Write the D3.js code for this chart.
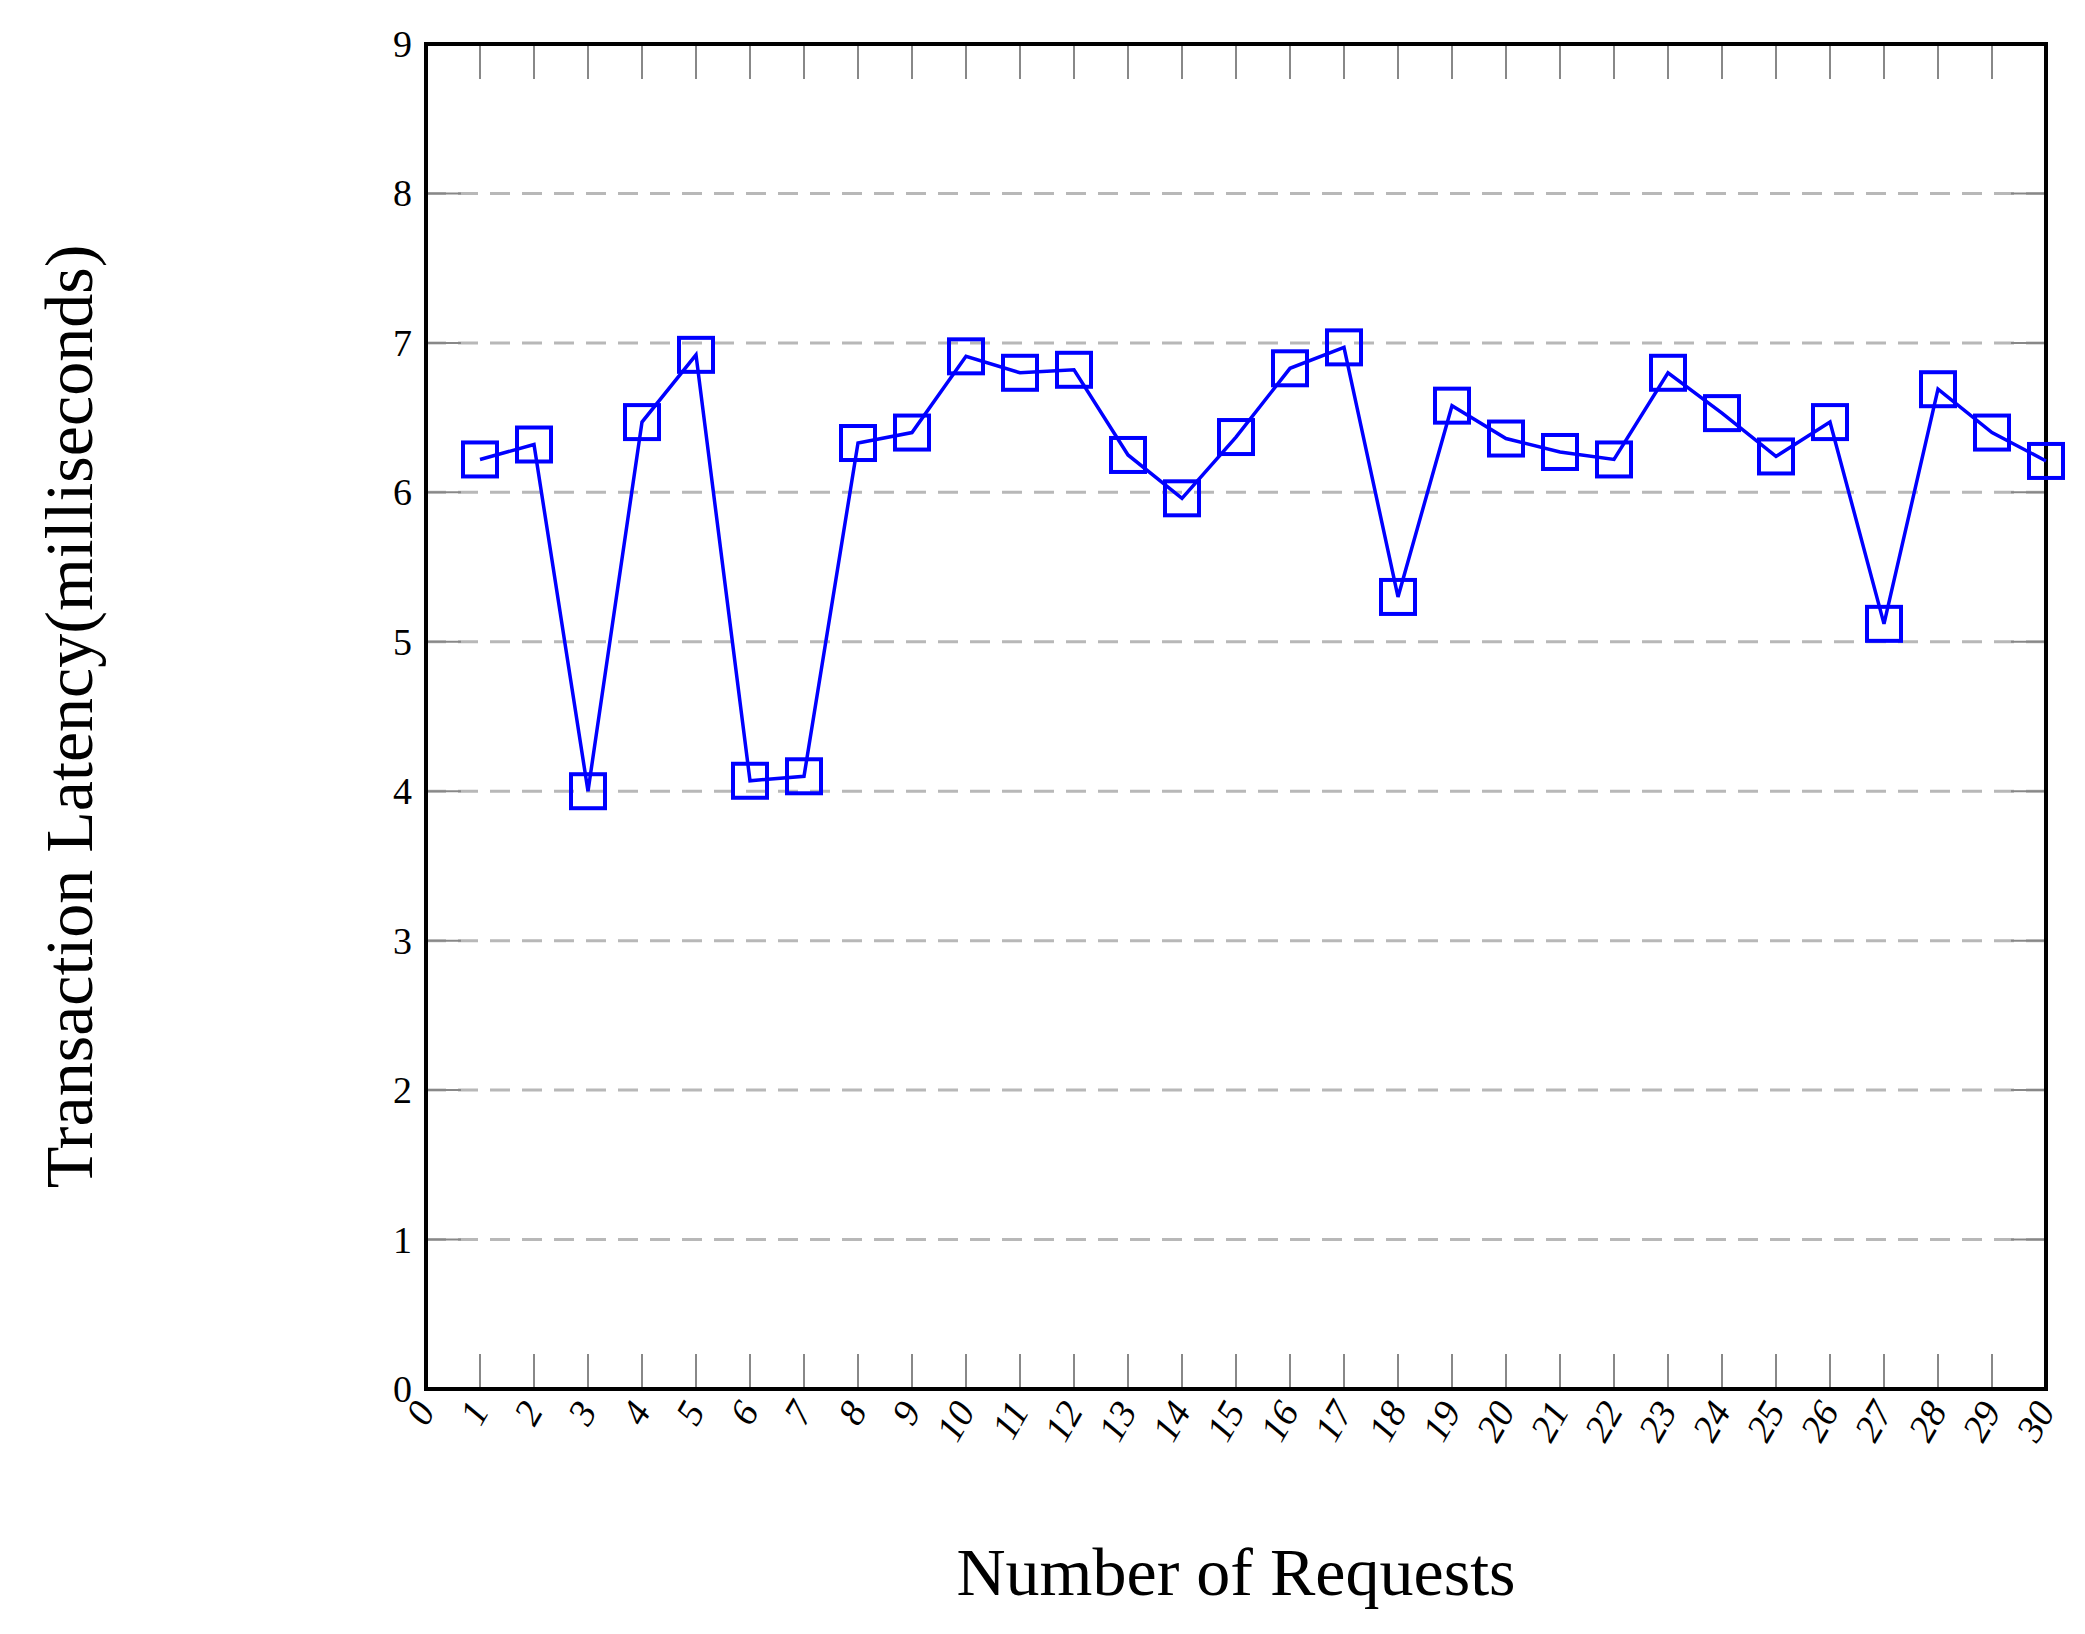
<!DOCTYPE html>
<html><head><meta charset="utf-8">
<script src="https://cdn.jsdelivr.net/npm/d3@7"></script>
<style>body{margin:0;background:#fff}text{font-family:"Liberation Serif","DejaVu Serif",serif}</style>
</head><body><div id="chart"></div>
<script>
var requests = d3.range(1, 31);
var latency = [6.22,6.32,4.0,6.47,6.92,4.07,4.1,6.33,6.4,6.91,6.8,6.82,6.25,5.96,6.37,6.83,6.97,5.3,6.58,6.36,6.27,6.22,6.8,6.53,6.24,6.47,5.12,6.69,6.4,6.21];
var xTicks = d3.range(0, 31);
var yTicks = d3.range(0, 10);

var W = 2085, H = 1634;
var margin = {top: 44, right: 39, bottom: 245, left: 426};
var width = W - margin.left - margin.right,
    height = H - margin.top - margin.bottom;

var svg = d3.select("#chart").append("svg").attr("width", W).attr("height", H);
var g = svg.append("g").attr("transform", "translate(" + margin.left + "," + margin.top + ")");

var x = d3.scaleLinear().domain([0, 30]).range([0, width]);
var y = d3.scaleLinear().domain([0, 9]).range([height, 0]);

// dashed grid
g.selectAll(".grid").data(yTicks.slice(1, 9)).enter().append("line")
  .attr("x1", 0).attr("x2", width)
  .attr("y1", y).attr("y2", y)
  .style("stroke", "#b8b8b8").style("stroke-width", 3).style("stroke-dasharray", "20,12");

// tick marks
var tl = 35;
g.selectAll(".xtb").data(xTicks.slice(1, 30)).enter().append("line")
  .attr("x1", x).attr("x2", x).attr("y1", height).attr("y2", height - tl)
  .style("stroke", "#888").style("stroke-width", 2);
g.selectAll(".xtt").data(xTicks.slice(1, 30)).enter().append("line")
  .attr("x1", x).attr("x2", x).attr("y1", 0).attr("y2", tl)
  .style("stroke", "#888").style("stroke-width", 2);
g.selectAll(".ytl").data(yTicks.slice(1, 9)).enter().append("line")
  .attr("x1", 0).attr("x2", tl).attr("y1", y).attr("y2", y)
  .style("stroke", "#888").style("stroke-width", 2);
g.selectAll(".ytr").data(yTicks.slice(1, 9)).enter().append("line")
  .attr("x1", width - tl).attr("x2", width).attr("y1", y).attr("y2", y)
  .style("stroke", "#888").style("stroke-width", 2);

// tick labels
g.selectAll(".yl").data(yTicks).enter().append("text")
  .attr("x", -14).attr("y", function(d) { return y(d) + 13; })
  .attr("text-anchor", "end").style("font-size", "38px").text(function(d) { return d; });
g.selectAll(".xl").data(xTicks).enter().append("text")
  .attr("transform", function(d) { return "translate(" + (x(d) + 10) + "," + (height + 22) + ") rotate(-60)"; })
  .attr("text-anchor", "end").style("font-size", "38px").style("font-style", "italic")
  .text(function(d) { return d; });

// frame
g.append("rect").attr("width", width).attr("height", height)
  .style("fill", "none").style("stroke", "#000").style("stroke-width", 4);

// series
var line = d3.line().x(function(d, i) { return x(requests[i]); }).y(function(d) { return y(d); });
g.append("path").datum(latency).attr("d", line)
  .style("fill", "none").style("stroke", "#0000ff").style("stroke-width", 3.5);
var s = 34;
g.selectAll(".m").data(latency).enter().append("rect")
  .attr("x", function(d, i) { return x(requests[i]) - s / 2; })
  .attr("y", function(d) { return y(d) - s / 2; })
  .attr("width", s).attr("height", s)
  .style("fill", "none").style("stroke", "#0000ff").style("stroke-width", 4);

// titles
svg.append("text").attr("x", margin.left + width / 2).attr("y", 1595)
  .attr("text-anchor", "middle").style("font-size", "68px").text("Number of Requests");
svg.append("text").attr("transform", "translate(92," + (margin.top + height / 2) + ") rotate(-90)")
  .attr("text-anchor", "middle").style("font-size", "68px").text("Transaction Latency(milliseconds)");
</script></body></html>
